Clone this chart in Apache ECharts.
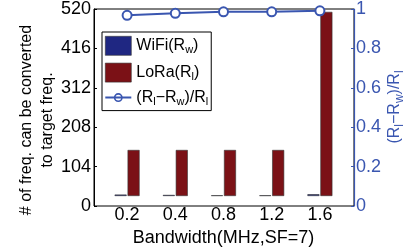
<!DOCTYPE html>
<html>
<head>
<meta charset="utf-8">
<script src="https://cdn.jsdelivr.net/npm/echarts@6/dist/echarts.min.js"></script>
<style>
  html, body { margin: 0; padding: 0; background: #fff; }
  #chart { width: 409px; height: 252px; }
</style>
</head>
<body>
<div id="chart"></div>
<script>
/* data */
const bandwidths = ['0.2', '0.4', '0.8', '1.2', '1.6'];
const wifiCounts = [4, 3, 2, 2, 5];
const loraCounts = [128, 128, 128, 128, 512];
const ratioVals = [0.966, 0.977, 0.985, 0.985, 0.99];

const FONT = "'Liberation Sans', Arial, Helvetica, sans-serif";
const BLUE = '#3a56b0';
const NAVY = '#1f2782';
const RED = '#7b1116';

const legendText = {
    WiFi: '{n|WiFi(R}{s|w}{n|)}',
    LoRa: '{n|LoRa(R}{s|l}{n|)}',
    ratio: '{n|(R}{s|l}{n|\u2212R}{s|w}{n|)/R}{s|l}'
};
const subRich = {
    n: { fontSize: 16, fontFamily: FONT, color: '#000' },
    s: { fontSize: 11, fontFamily: FONT, color: '#000', padding: [9, 0, 0, 0] }
};
// line with a ring through it, like the matlab legend marker
const lineMarkIcon = 'path://M0,8.5L26,8.5L26,10.5L0,10.5Z' +
    'M13,5A4.5,4.5 0 1,1 12.99,5Z M13,6.6A2.9,2.9 0 1,0 13.01,6.6Z';

const chart = echarts.init(document.getElementById('chart'), null, { renderer: 'canvas' });

chart.setOption({
    animation: false,
    textStyle: { fontFamily: FONT },
    grid: [
        { left: 103, width: 241, top: 9, height: 197 },   // bars + line
        { left: 94, width: 260, top: 9, height: 197, show: true, borderColor: '#000', borderWidth: 1 } // frame + y axes
    ],
    legend: {
        orient: 'vertical',
        left: 102, top: 32,
        itemWidth: 26, itemHeight: 19, itemGap: 7,
        padding: [4, 3, 3, 3],
        symbolKeepAspect: true,
        borderColor: '#000', borderWidth: 1, backgroundColor: '#fff',
        data: [
            { name: 'WiFi', icon: 'rect', itemStyle: { borderColor: '#333', borderWidth: 0.6 } },
            { name: 'LoRa', icon: 'rect', itemStyle: { borderColor: '#333', borderWidth: 0.6 } },
            { name: 'ratio', icon: lineMarkIcon, itemStyle: { color: BLUE, borderWidth: 0 } }
        ],
        formatter: name => legendText[name],
        textStyle: { rich: subRich }
    },
    graphic: [
        {
            type: 'text', x: 37, y: 120, rotation: Math.PI / 2,
            style: {
                text: '# of freq. can be converted\nto target freq.',
                font: '16px ' + FONT, fill: '#000', lineHeight: 21,
                textAlign: 'center', textVerticalAlign: 'middle'
            }
        },
        {
            type: 'text', x: 395, y: 107, rotation: Math.PI / 2,
            style: {
                text: '{n|(R}{s|l}{n|\u2212R}{s|w}{n|)/R}{s|l}',
                textAlign: 'center', textVerticalAlign: 'middle',
                rich: {
                    n: { fontSize: 16, fontFamily: FONT, fill: BLUE },
                    s: { fontSize: 12, fontFamily: FONT, fill: BLUE, padding: [9, 0, 0, 0] }
                }
            }
        }
    ],
    xAxis: [
        {
            gridIndex: 0, type: 'category', data: bandwidths,
            axisLine: { show: false }, axisTick: { show: false },
            axisLabel: { fontSize: 18, color: '#000', margin: 10 },
            name: 'Bandwidth(MHz,SF=7)', nameLocation: 'middle', nameGap: 33,
            nameTextStyle: { fontSize: 18, color: '#000' }
        },
        { gridIndex: 1, type: 'value', show: false }
    ],
    yAxis: [
        {
            gridIndex: 1, type: 'value', position: 'left', min: 0, max: 520, interval: 104,
            axisLine: { show: true, lineStyle: { color: '#000', width: 1 } },
            axisTick: { show: true, inside: true, length: 3, lineStyle: { color: '#000' } },
            axisLabel: { fontSize: 18, color: '#000', margin: 3 },
            splitLine: { show: false }
        },
        {
            gridIndex: 1, type: 'value', position: 'right', min: 0, max: 1, interval: 0.2,
            axisLine: { show: true, lineStyle: { color: BLUE, width: 1.2 } },
            axisTick: { show: true, inside: true, length: 3, lineStyle: { color: BLUE } },
            axisLabel: { fontSize: 18, color: BLUE, margin: 2 },
            splitLine: { show: false }
        },
        { gridIndex: 0, type: 'value', min: 0, max: 520, interval: 104, show: false },
        { gridIndex: 0, type: 'value', min: 0, max: 1, interval: 0.2, show: false }
    ],
    series: [
        {
            name: 'WiFi', type: 'bar', xAxisIndex: 0, yAxisIndex: 2,
            data: wifiCounts, barWidth: 12, barGap: '8%',
            itemStyle: { color: NAVY, borderColor: '#333', borderWidth: 0.6 }
        },
        {
            name: 'LoRa', type: 'bar', xAxisIndex: 0, yAxisIndex: 2,
            data: loraCounts, barWidth: 12,
            itemStyle: { color: RED, borderColor: '#333', borderWidth: 0.6 }
        },
        {
            name: 'ratio', type: 'line', xAxisIndex: 0, yAxisIndex: 3,
            data: ratioVals, clip: false, z: 5,
            symbol: 'emptyCircle', symbolSize: 9,
            lineStyle: { color: BLUE, width: 2 },
            itemStyle: { color: BLUE, borderWidth: 2 }
        }
    ]
});
</script>
</body>
</html>
